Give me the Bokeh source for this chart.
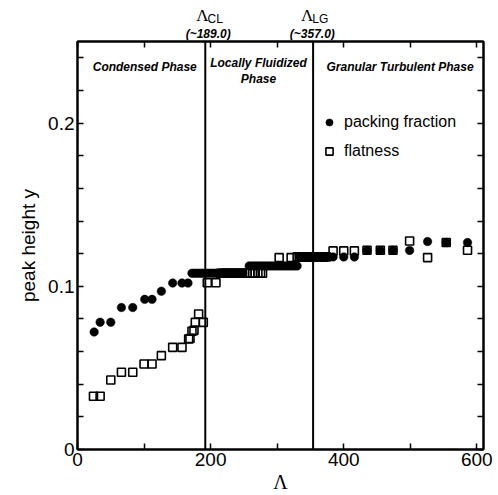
from bokeh.plotting import figure
from bokeh.layouts import column
from bokeh.models import (Span, Label, Legend, LegendItem, FixedTicker, LinearAxis,
                          Range1d, ColumnDataSource)
from bokeh.embed import file_html
from bokeh.resources import INLINE

# packing fraction (filled circles)
pf_x = [25, 34, 50, 66, 83, 101, 112, 126, 143, 157, 166,
        172, 176, 180, 184, 188, 192, 196, 200, 204, 208, 212, 216, 220, 224,
        228, 232, 236, 240, 244, 248,
        258, 262, 266, 270, 274, 278, 282, 286, 290, 294, 298, 302, 306, 310,
        314, 318, 322, 326, 330,
        334, 338, 342, 346, 350, 354, 358, 362, 366, 370, 374,
        384, 400, 416, 435, 455, 474, 499, 526, 554, 586]
pf_y = [0.072, 0.078, 0.078, 0.087, 0.087, 0.092, 0.092, 0.097, 0.102, 0.102, 0.102,
        0.108, 0.108, 0.108, 0.108, 0.108, 0.108, 0.108, 0.108, 0.108, 0.108,
        0.108, 0.108, 0.108, 0.108, 0.108, 0.108, 0.108, 0.108, 0.108, 0.108,
        0.1125, 0.1125, 0.1125, 0.1125, 0.1125, 0.1125, 0.1125, 0.1125, 0.1125,
        0.1125, 0.1125, 0.1125, 0.1125, 0.1125, 0.1125, 0.1125, 0.1125, 0.1125, 0.1125,
        0.118, 0.118, 0.118, 0.118, 0.118, 0.118, 0.118, 0.118, 0.118, 0.118, 0.118,
        0.118, 0.118, 0.118, 0.122, 0.122, 0.122, 0.122, 0.1274, 0.1268, 0.1268]

# flatness (open squares)
fl_x = [24, 34, 50, 66, 83, 100, 112, 126, 143, 157, 167, 169, 172, 175, 177, 182, 189,
        195, 208,
        215, 219, 223, 227, 231, 235, 239, 243, 247, 251, 255, 259, 263, 267, 271, 275, 278,
        303, 321,
        330, 334, 338, 342, 346, 350, 354, 358, 362, 366, 370, 374,
        384, 400, 416, 435, 455, 474, 499, 526, 554, 586]
fl_y = [0.0326, 0.0326, 0.0426, 0.0473, 0.0473, 0.0524, 0.0524, 0.0575, 0.0626, 0.0626,
        0.0677, 0.068, 0.0725, 0.073, 0.0779, 0.083, 0.0779,
        0.1022, 0.1022,
        0.108, 0.108, 0.108, 0.108, 0.108, 0.108, 0.108, 0.108, 0.108, 0.108, 0.108,
        0.108, 0.108, 0.108, 0.108, 0.108, 0.108,
        0.1176, 0.1176,
        0.118, 0.118, 0.118, 0.118, 0.118, 0.118, 0.118, 0.118, 0.118, 0.118, 0.118, 0.118,
        0.1217, 0.1217, 0.1217, 0.1221, 0.1221, 0.1221, 0.1278, 0.1176, 0.1268, 0.1221]

x_ticks = [0, 100, 200, 300, 400, 500, 600]
x_tick_labels = {0: "0", 100: "", 200: "200", 300: "", 400: "400", 500: "", 600: "600"}
y_ticks = [0, 0.02, 0.04, 0.06, 0.08, 0.1, 0.12, 0.14, 0.16, 0.18, 0.2, 0.22, 0.24]
y_tick_labels = {t: "" for t in y_ticks}
y_tick_labels.update({0: "0", 0.1: "0.1", 0.2: "0.2"})

lambda_cl = 192
lambda_lg = 354

SANS = "Liberation Sans"
SERIF = "Liberation Serif"

TOP_H = 40
xr = Range1d(0, 610)

# ---- strip above the frame holding the transition labels ----
t = figure(width=498, height=TOP_H, x_range=xr, y_range=Range1d(0, TOP_H),
           output_backend="svg", toolbar_location=None, x_axis_type=None, y_axis_type=None,
           min_border_left=77, min_border_right=15, min_border_top=0, min_border_bottom=0)
t.outline_line_color = None
t.xgrid.visible = False
t.ygrid.visible = False
t.background_fill_color = "white"
t.border_fill_color = "white"


def lab(fig, x, y, text, font=SANS, size="12px", style="bold italic", align="center"):
    fig.add_layout(Label(x=x, y=y, text=text, text_font=font, text_font_size=size,
                         text_font_style=style, text_align=align, text_baseline="middle",
                         text_color="black"))


lab(t, 187.6, TOP_H - 14.5, "Λ", font=SERIF, size="17px", style="normal")
lab(t, 195.5, TOP_H - 18.5, "CL", size="12px", style="normal", align="left")
lab(t, 196.3, TOP_H - 33.5, "(~189.0)", size="12px")
lab(t, 344.9, TOP_H - 14.5, "Λ", font=SERIF, size="17px", style="normal")
lab(t, 352.8, TOP_H - 18.5, "LG", size="12px", style="normal", align="left")
lab(t, 352.8, TOP_H - 33.5, "(~357.0)", size="12px")

# ---- main plot ----
p = figure(width=498, height=495 - TOP_H, x_range=xr, y_range=Range1d(0, 0.25),
           output_backend="svg", toolbar_location=None,
           min_border_left=77, min_border_right=15, min_border_top=1, min_border_bottom=46)
p.background_fill_color = "white"
p.border_fill_color = "white"
p.outline_line_color = "black"
p.outline_line_width = 2
p.xgrid.visible = False
p.ygrid.visible = False


def style_axis(ax, ticks, overrides, show_labels=True):
    ax.ticker = FixedTicker(ticks=ticks, minor_ticks=[])
    ax.major_label_overrides = overrides
    ax.major_tick_in = 6
    ax.major_tick_out = 0
    ax.minor_tick_in = 0
    ax.minor_tick_out = 0
    ax.axis_line_width = 2
    ax.major_tick_line_width = 1.5
    ax.major_label_text_font = SANS
    ax.major_label_text_font_size = "19px"
    ax.major_label_text_color = "black"
    ax.major_label_standoff = 3
    if not show_labels:
        ax.major_label_text_font_size = "0px"
        ax.major_label_standoff = 0


xa = p.xaxis[0]
style_axis(xa, x_ticks, x_tick_labels)
xa.axis_label = "Λ"
xa.axis_label_text_font = SERIF
xa.axis_label_text_font_style = "normal"
xa.axis_label_text_font_size = "20px"
xa.axis_label_text_color = "black"
xa.axis_label_standoff = 2

ya = p.yaxis[0]
style_axis(ya, y_ticks, y_tick_labels)
ya.axis_label = "peak height y"
ya.axis_label_text_font = SANS
ya.axis_label_text_font_style = "normal"
ya.axis_label_text_font_size = "19px"
ya.axis_label_text_color = "black"
ya.axis_label_standoff = 6
ya.major_label_orientation = "horizontal"

top = LinearAxis()
style_axis(top, x_ticks, {v: "" for v in x_ticks}, show_labels=False)
p.add_layout(top, "above")
right = LinearAxis()
style_axis(right, y_ticks, {v: "" for v in y_ticks}, show_labels=False)
p.add_layout(right, "right")

p.add_layout(Span(location=lambda_cl, dimension="height", line_color="black", line_width=2))
p.add_layout(Span(location=lambda_lg, dimension="height", line_color="black", line_width=2))

pf_src = ColumnDataSource(dict(x=pf_x, y=pf_y))
fl_src = ColumnDataSource(dict(x=fl_x, y=fl_y))
r_fl = p.scatter("x", "y", source=fl_src, marker="square", size=8, fill_color="white",
                 fill_alpha=0.0, line_color="black", line_width=1.6)
r_pf = p.scatter("x", "y", source=pf_src, marker="circle", size=8.5, fill_color="black",
                 line_color="black", line_width=0.5)

legend = Legend(items=[LegendItem(label="packing fraction", renderers=[r_pf]),
                       LegendItem(label="flatness", renderers=[r_fl])],
                location=(243, 288), orientation="vertical")
legend.border_line_alpha = 0
legend.background_fill_alpha = 0
legend.padding = 0
legend.margin = 0
legend.spacing = 9
legend.glyph_width = 18
legend.glyph_height = 20
legend.label_height = 20
legend.label_standoff = 6
legend.label_text_font = SANS
legend.label_text_font_size = "16px"
legend.label_text_color = "black"
p.add_layout(legend, "center")

# phase names
lab(p, 101, 0.2341, "Condensed Phase")
lab(p, 272, 0.2368, "Locally Fluidized")
lab(p, 272, 0.2273, "Phase")
lab(p, 484.6, 0.2341, "Granular Turbulent Phase")

layout = column(t, p, spacing=0)
open("out.html", "w").write(file_html(layout, INLINE))
